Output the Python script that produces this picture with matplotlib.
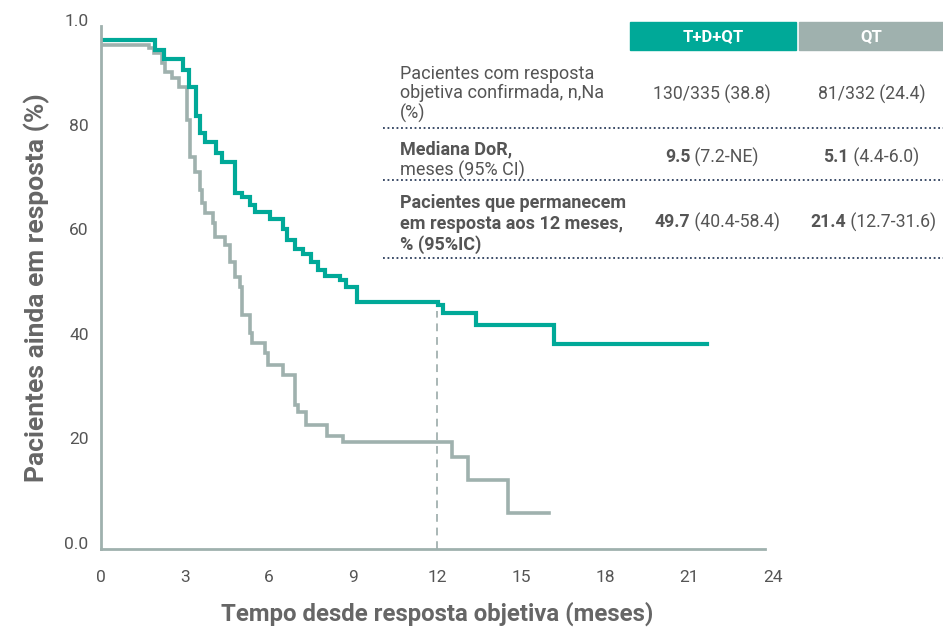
import matplotlib
matplotlib.use("Agg")
import matplotlib.pyplot as plt
from matplotlib.patches import Rectangle
from matplotlib.lines import Line2D
from matplotlib.transforms import ScaledTranslation

plt.rcParams['font.family'] = ['Roboto', 'DejaVu Sans']

# curva T+D+QT (meses, % em resposta)
tdqt_t = [0, 1.93, 2.25, 2.93, 3.14, 3.39, 3.54, 3.71, 4.11, 4.32, 4.79, 5.04, 5.32, 5.50,
          6.04, 6.50, 6.64, 6.93, 7.21, 7.50, 7.75, 8.00, 8.54, 8.75, 9.14, 12.02, 12.21,
          13.39, 16.18, 21.64]
tdqt_s = [97.3, 95.4, 93.7, 91.6, 88.3, 82.8, 79.5, 77.8, 75.7, 74.0, 68.1, 67.3, 65.8, 64.4,
          63.1, 61.2, 59.1, 57.4, 56.4, 54.9, 53.3, 52.2, 51.4, 50.1, 47.2, 46.7, 45.1,
          42.8, 39.2, 39.2]

# curva QT
qt_t = [0, 1.71, 1.89, 2.18, 2.29, 2.54, 2.79, 3.07, 3.18, 3.36, 3.54, 3.61, 3.71, 4.00,
        4.07, 4.43, 4.61, 4.79, 4.96, 5.04, 5.32, 5.39, 5.86, 5.96, 6.50, 6.93, 7.04, 7.32,
        8.07, 8.64, 12.54, 13.11, 14.54, 16.00]
qt_s = [96.4, 95.8, 94.8, 92.9, 91.2, 90.1, 88.3, 82.0, 75.0, 72.1, 68.6, 66.2, 64.2, 62.3,
        59.7, 58.1, 54.9, 52.0, 50.1, 44.7, 41.3, 39.4, 37.5, 35.2, 33.3, 27.5, 26.2, 23.7,
        21.6, 20.5, 17.6, 13.2, 6.9, 6.9]

marco_12m = 12
x_ticks = [0, 3, 6, 9, 12, 15, 18, 21, 24]
y_ticks = [0, 20, 40, 60, 80, 100]
y_tick_labels = ['0.0', '20', '40', '60', '80', '1.0']

col_headers = ['T+D+QT', 'QT']
row1_label = 'Pacientes com resposta\nobjetiva confirmada, n,Na\n(%)'
row1_vals = ['130/335 (38.8)', '81/332 (24.4)']
row2_bold, row2_norm = 'Mediana DoR,', 'meses (95% CI)'
row2_vals = [('9.5', ' (7.2-NE)'), ('5.1', ' (4.4-6.0)')]
row3_label = 'Pacientes que permanecem\nem resposta aos 12 meses,\n% (95%IC)'
row3_vals = [('49.7', ' (40.4-58.4)'), ('21.4', ' (12.7-31.6)')]

TEAL = '#00a998'
GRAY = '#9fb1ae'
TXT = '#555555'

W, H = 943, 631
fig = plt.figure(figsize=(W / 100, H / 100), dpi=100)
ax = fig.add_axes([101 / W, 1 - 549 / H, 672 / W, 523 / H])

ax.step(qt_t, qt_s, where='post', color=GRAY, lw=2.6, solid_joinstyle='miter')
ax.step(tdqt_t, tdqt_s, where='post', color=TEAL, lw=3.0, solid_joinstyle='miter')
ax.plot([marco_12m, marco_12m], [0, 45.5], color='#a9b7b5', lw=1.4, ls=(0, (4, 3)))

ax.set_xlim(0, 24)
ax.set_ylim(0, 100)
for s in ['top', 'right']:
    ax.spines[s].set_visible(False)
for s in ['left', 'bottom']:
    ax.spines[s].set_color(GRAY)
    ax.spines[s].set_linewidth(2.0)
ax.spines['bottom'].set_bounds(0, 23.72)

ax.set_xticks(x_ticks)
ax.set_yticks(y_ticks)
ax.set_yticklabels(y_tick_labels)
ax.tick_params(axis='both', length=0, labelsize=12.5, labelcolor=TXT)
ax.tick_params(axis='x', pad=15)
ax.tick_params(axis='y', pad=9)
ax.set_yticks([100], minor=True)
ax.tick_params(axis='y', which='minor', length=8, width=2.0, color=GRAY)
offset = ScaledTranslation(0, 6 / 100, fig.dpi_scale_trans)
for lab in ax.get_yticklabels():
    lab.set_transform(lab.get_transform() + offset)

ax.set_ylabel('Pacientes ainda em resposta (%)', fontsize=19, fontweight='bold',
              color='#666666', labelpad=10)
ax.set_xlabel('Tempo desde resposta objetiva (meses)', fontsize=17.3, fontweight='bold',
              color='#666666', labelpad=12)


def fx(px):
    return px / W


def fy(py):
    return 1 - py / H


# cabeçalho da tabela
fig.patches.append(Rectangle((fx(630), fy(50)), fx(796) - fx(630), 28 / H,
                             transform=fig.transFigure, color=TEAL, zorder=1))
fig.patches.append(Rectangle((fx(799), fy(50)), fx(943) - fx(799), 28 / H,
                             transform=fig.transFigure, color=GRAY, zorder=1))
fig.text(fx(713), fy(37), col_headers[0], color='white', fontsize=12, fontweight='bold',
         ha='center', va='center')
fig.text(fx(871), fy(37), col_headers[1], color='white', fontsize=12, fontweight='bold',
         ha='center', va='center')

# linhas pontilhadas
for yy in [128, 180, 258]:
    fig.add_artist(Line2D([fx(383), fx(943)], [fy(yy), fy(yy)], transform=fig.transFigure,
                          color='#2c3e5c', lw=1.3, ls=(0, (1, 1.5))))

fig.text(fx(400), fy(94), row1_label, fontsize=13, color=TXT, va='center', ha='left',
         linespacing=1.12)
fig.text(fx(712), fy(94), row1_vals[0], fontsize=12.7, color=TXT, ha='center', va='center')
fig.text(fx(872), fy(94), row1_vals[1], fontsize=12.7, color=TXT, ha='center', va='center')

fig.text(fx(400), fy(149), row2_bold, fontsize=13, color=TXT, fontweight='bold', va='center')
fig.text(fx(400), fy(170), row2_norm, fontsize=13, color=TXT, va='center')
fig.text(fx(400), fy(224), row3_label, fontsize=13, color=TXT, fontweight='bold',
         va='center', ha='left', linespacing=1.17)

renderer = fig.canvas.get_renderer()


def mixed(cx, cy, bold, norm):
    t1 = fig.text(0, fy(cy), bold, fontsize=12.7, color=TXT, fontweight='bold', va='center')
    t2 = fig.text(0, fy(cy), norm, fontsize=12.7, color=TXT, va='center')
    w1 = t1.get_window_extent(renderer).width
    w2 = t2.get_window_extent(renderer).width
    x0 = cx - (w1 + w2) / 2
    t1.set_x(fx(x0))
    t2.set_x(fx(x0 + w1))


mixed(712, 157, *row2_vals[0])
mixed(871, 157, *row2_vals[1])
mixed(717, 222, *row3_vals[0])
mixed(873, 222, *row3_vals[1])

fig.savefig('out.png', dpi=100)
